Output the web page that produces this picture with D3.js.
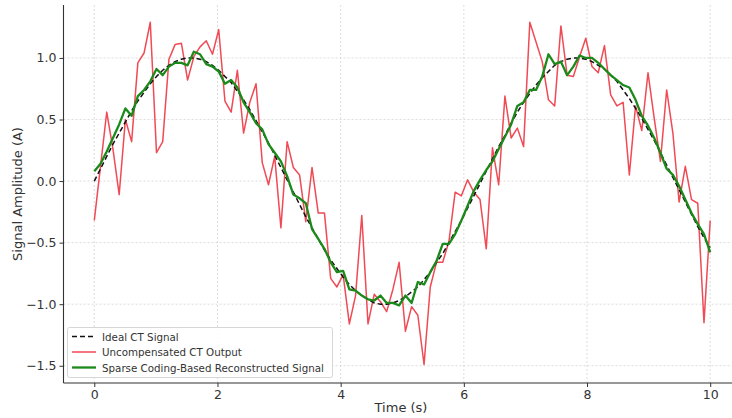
<!DOCTYPE html>
<html><head><meta charset="utf-8">
<script src="https://cdn.jsdelivr.net/npm/d3@7"></script>
<style>body{margin:0;background:#fff;}svg{display:block;}</style>
</head><body>
<script>
const time = [0,0.101,0.202,0.303,0.404,0.505,0.606,0.707,0.808,0.909,1.010,1.111,1.212,1.313,1.414,1.515,1.616,1.717,1.818,1.919,2.020,2.121,2.222,2.323,2.424,2.525,2.626,2.727,2.828,2.929,3.030,3.131,3.232,3.333,3.434,3.535,3.636,3.737,3.838,3.939,4.040,4.141,4.242,4.343,4.444,4.545,4.646,4.747,4.848,4.949,5.051,5.152,5.253,5.354,5.455,5.556,5.657,5.758,5.859,5.960,6.061,6.162,6.263,6.364,6.465,6.566,6.667,6.768,6.869,6.970,7.071,7.172,7.273,7.374,7.475,7.576,7.677,7.778,7.879,7.980,8.081,8.182,8.283,8.384,8.485,8.586,8.687,8.788,8.889,8.990,9.091,9.192,9.293,9.394,9.495,9.596,9.697,9.798,9.899,10.0];
const idealSignal = [0.00,0.10,0.20,0.30,0.39,0.48,0.57,0.65,0.72,0.79,0.85,0.90,0.94,0.97,0.99,1.00,1.00,0.99,0.97,0.94,0.90,0.85,0.80,0.73,0.66,0.58,0.49,0.40,0.31,0.21,0.11,0.01,-0.09,-0.19,-0.29,-0.38,-0.47,-0.56,-0.64,-0.71,-0.78,-0.84,-0.89,-0.93,-0.96,-0.99,-1.00,-1.00,-0.99,-0.97,-0.94,-0.90,-0.86,-0.80,-0.74,-0.66,-0.59,-0.50,-0.41,-0.32,-0.22,-0.12,-0.02,0.08,0.18,0.28,0.37,0.47,0.56,0.64,0.71,0.78,0.84,0.89,0.94,0.97,0.99,1.00,1.00,0.99,0.97,0.94,0.91,0.86,0.81,0.74,0.67,0.59,0.51,0.42,0.33,0.23,0.13,0.03,-0.07,-0.17,-0.27,-0.37,-0.46,-0.54];
const uncompensated = [-0.32,0.12,0.56,0.26,-0.11,0.50,0.32,0.96,1.04,1.29,0.23,0.32,0.99,1.11,1.12,0.82,1.01,1.09,1.14,1.03,1.23,0.65,0.56,0.90,0.39,0.64,0.79,0.15,-0.03,0.20,-0.38,0.32,0.11,0.05,-0.33,0.11,-0.26,-0.26,-0.79,-0.86,-0.76,-1.16,-0.93,-0.28,-1.16,-0.92,-0.98,-1.06,-0.88,-0.66,-1.22,-1.02,-1.09,-1.49,-0.86,-0.66,-0.66,-0.49,-0.09,-0.12,0.01,-0.09,-0.15,-0.55,0.27,-0.03,0.69,0.35,0.43,0.28,1.29,1.13,0.97,0.66,0.61,1.26,0.86,0.85,1.01,1.16,0.93,0.88,1.10,0.70,0.61,0.64,0.05,0.61,0.41,0.88,0.51,0.16,0.74,0.39,-0.17,0.12,-0.15,-0.18,-1.15,-0.32];
const reconstructed = [0.08,0.14,0.24,0.35,0.46,0.59,0.53,0.69,0.74,0.81,0.91,0.86,0.93,0.96,0.96,0.94,1.05,1.03,0.95,0.93,0.89,0.79,0.82,0.76,0.64,0.56,0.47,0.42,0.30,0.23,0.16,0.04,-0.11,-0.14,-0.18,-0.39,-0.47,-0.55,-0.66,-0.74,-0.73,-0.88,-0.89,-0.93,-0.96,-0.97,-0.93,-0.99,-0.99,-1.01,-0.93,-0.99,-0.82,-0.84,-0.74,-0.65,-0.51,-0.51,-0.43,-0.32,-0.20,-0.08,0.01,0.09,0.16,0.26,0.36,0.46,0.61,0.64,0.74,0.74,0.85,1.03,0.95,0.97,0.86,0.93,1.02,1.00,1.00,0.96,0.91,0.86,0.82,0.78,0.76,0.66,0.53,0.45,0.35,0.23,0.10,0.05,-0.04,-0.15,-0.26,-0.35,-0.43,-0.58];
const xTicks = [0,2,4,6,8,10];
const yTicks = [-1.5,-1.0,-0.5,0.0,0.5,1.0];
const seriesNames = ["Ideal CT Signal","Uncompensated CT Output","Sparse Coding-Based Reconstructed Signal"];

(function () {
const W = 732, H = 418;
const svg = d3.select("body").append("svg").attr("width", W).attr("height", H);
const pL = 63.5, pR = 741, pT = 5, pB = 383;
const x = d3.scaleLinear().domain([-0.5, 10.5]).range([pL, pR]);
const y = d3.scaleLinear().domain([-1.64, 1.43]).range([pB, pT]);
const font = "DejaVu Sans, sans-serif";

// grid
const grid = svg.append("g");
grid.selectAll(".gx").data(xTicks).join("line")
  .attr("x1", d => x(d)).attr("x2", d => x(d)).attr("y1", pT).attr("y2", pB)
  .attr("stroke", "#d4d4d4").attr("stroke-width", 0.8).attr("stroke-dasharray", "2,2");
grid.selectAll(".gy").data(yTicks).join("line")
  .attr("x1", pL).attr("x2", pR).attr("y1", d => y(d)).attr("y2", d => y(d))
  .attr("stroke", "#d4d4d4").attr("stroke-width", 0.8).attr("stroke-dasharray", "2,2");

// axes
const fmtY = d => d3.format(".1f")(d).replace("-", "\u2212");
const xAxis = svg.append("g").attr("transform", `translate(0,${pB})`)
  .call(d3.axisBottom(x).tickValues(xTicks).tickFormat(d3.format("d")).tickSize(4).tickPadding(3));
const yAxis = svg.append("g").attr("transform", `translate(${pL},0)`)
  .call(d3.axisLeft(y).tickValues(yTicks).tickFormat(fmtY).tickSize(4).tickPadding(3));
[xAxis, yAxis].forEach(a => {
  a.select(".domain").attr("stroke", "#333").attr("stroke-width", 1.1);
  a.selectAll(".tick line").attr("stroke", "#333");
  a.selectAll(".tick text").attr("fill", "#333").style("font-family", font).style("font-size", "12.5px");
});
yAxis.select(".domain").attr("d", `M0,${pB}V${pT}`);
xAxis.select(".domain").attr("d", `M${pL},0H${pR}`);

// lines
const pts = arr => arr.map((v, i) => [time[i], v]);
const line = d3.line().x(d => x(d[0])).y(d => y(d[1]));
svg.append("path").attr("d", line(pts(uncompensated))).attr("fill", "none")
  .attr("stroke", "#f04a55").attr("stroke-width", 1.5).attr("stroke-linejoin", "round");
svg.append("path").attr("d", line(pts(idealSignal))).attr("fill", "none")
  .attr("stroke", "#111").attr("stroke-width", 1.5).attr("stroke-dasharray", "5,3");
svg.append("path").attr("d", line(pts(reconstructed))).attr("fill", "none")
  .attr("stroke", "#1b8a1b").attr("stroke-width", 2.3).attr("stroke-linejoin", "round");

// axis labels
svg.append("text").attr("x", 401).attr("y", 412).attr("text-anchor", "middle")
  .attr("fill", "#333").style("font-family", font).style("font-size", "13px").text("Time (s)");
svg.append("text").attr("transform", `translate(22,${(pT + pB) / 2}) rotate(-90)`).attr("text-anchor", "middle")
  .attr("fill", "#333").style("font-family", font).style("font-size", "13px").text("Signal Amplitude (A)");

// legend
const lg = svg.append("g");
lg.append("rect").attr("x", 67.5).attr("y", 327.5).attr("width", 265).attr("height", 50).attr("rx", 2)
  .attr("fill", "#fff").attr("fill-opacity", 0.85).attr("stroke", "#d6d6d6");
const styles = [
  {c: "#111", w: 1.5, dash: "5,3"},
  {c: "#f04a55", w: 1.5, dash: null},
  {c: "#1b8a1b", w: 2.3, dash: null}
];
seriesNames.forEach((n, i) => {
  const cy = 336.5 + i * 15.5;
  lg.append("line").attr("x1", 72).attr("x2", 96).attr("y1", cy).attr("y2", cy)
    .attr("stroke", styles[i].c).attr("stroke-width", styles[i].w).attr("stroke-dasharray", styles[i].dash);
  lg.append("text").attr("x", 102).attr("y", cy + 4).attr("fill", "#333")
    .style("font-family", font).style("font-size", "10.3px").text(n);
});
})();
</script>
</body></html>
